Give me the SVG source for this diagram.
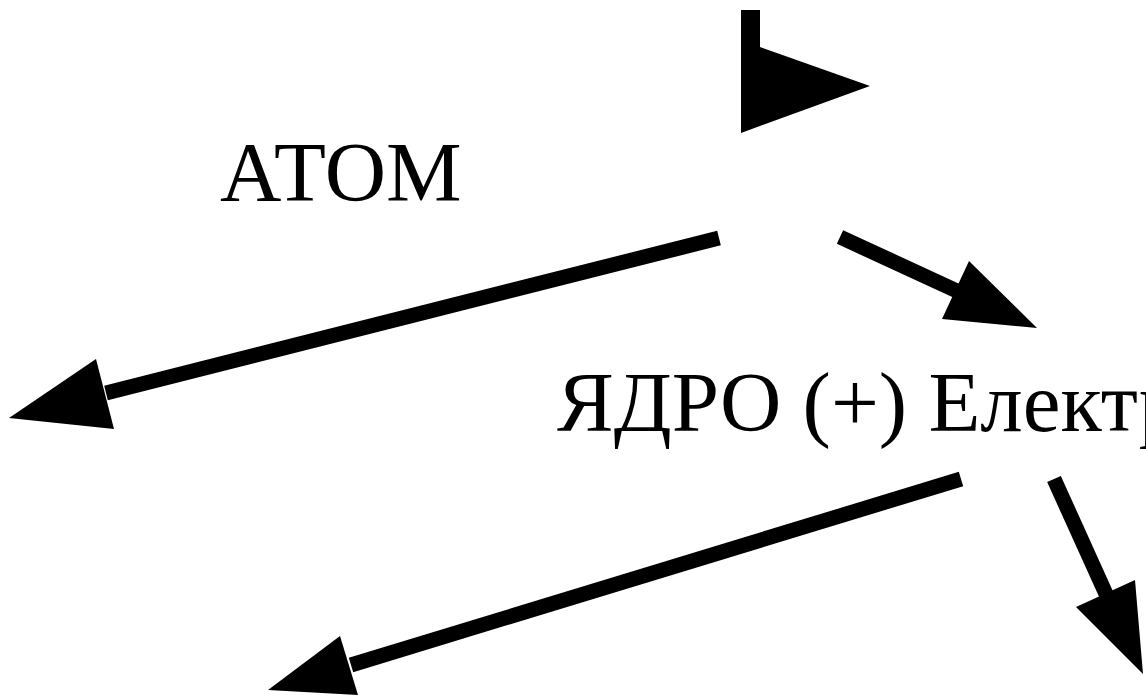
<svg xmlns="http://www.w3.org/2000/svg" width="1146" height="699" viewBox="0 0 1146 699">
<style>
.lbl{font-family:"Liberation Serif","Times New Roman",serif;font-size:85px;fill:#000}
.ln{stroke:#000;stroke-width:15;fill:none;stroke-linecap:butt}
.hd{fill:#000;stroke:none}
</style>
<rect width="1146" height="699" fill="#fff"/>
<g id="flag">
<polygon class="hd" points="741,10 760,10 760,47 870,86 741,133"/>
</g>
<g id="atom">
<text class="lbl" x="220" y="201">АТОМ</text>
</g>
<g id="nucleus">
<text class="lbl" x="557" y="431">ЯДРО (+) Електрони</text>
</g>
<g id="connectors">
<line class="ln" x1="719" y1="238" x2="106" y2="393"/>
<polygon class="hd" points="96,359 114,429 9,418"/>
<line class="ln" x1="840" y1="237" x2="957" y2="291"/>
<polygon class="hd" points="969,261 942,319 1037,328"/>
<line class="ln" x1="961" y1="479" x2="351" y2="665"/>
<polygon class="hd" points="340,636 358,695 268,690"/>
<line class="ln" x1="1054" y1="479" x2="1106" y2="594"/>
<polygon class="hd" points="1076,607 1135,580 1143,674"/>
</g>
</svg>
